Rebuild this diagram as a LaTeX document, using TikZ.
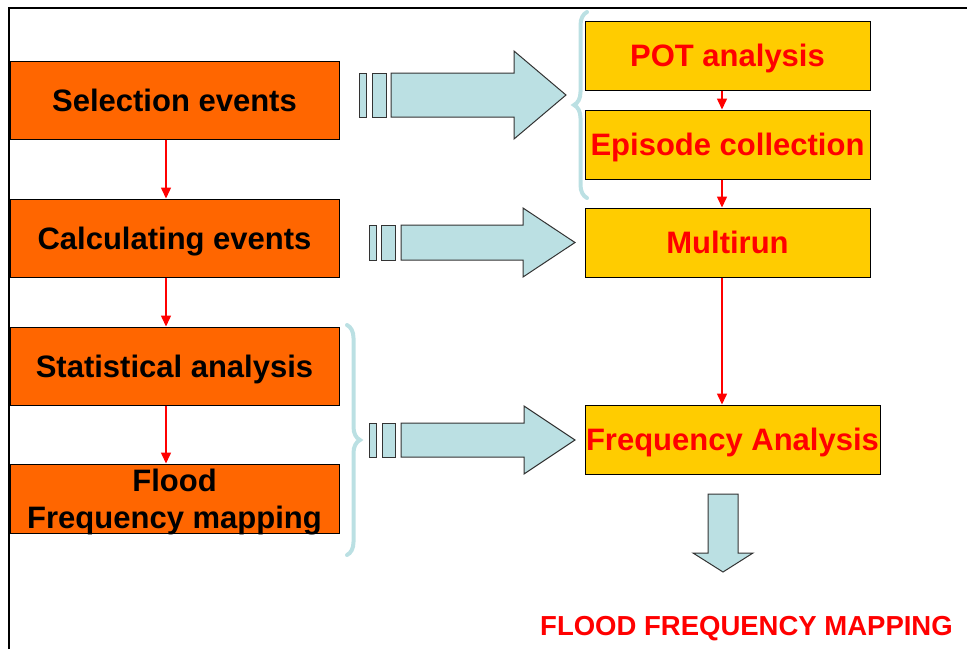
\documentclass[tikz,border=0pt]{standalone}
\usepackage{fontspec}
\setmainfont{Liberation Sans}
\usepackage{tikz}
\usepackage{xcolor}
\usetikzlibrary{arrows.meta,decorations.pathreplacing}

\definecolor{boxorange}{HTML}{FF6600}
\definecolor{boxyellow}{HTML}{FFCC00}
\definecolor{arrowblue}{HTML}{BBE0E3}

\begin{document}
\begin{tikzpicture}[x=1pt,y=-1pt,
  box/.style={draw=black,line width=1pt,inner sep=0pt,font=\fontsize{31}{37}\selectfont\bfseries},
  leftbox/.style={box,fill=boxorange,text=black,minimum width=329pt},
  rightbox/.style={box,fill=boxyellow,text=red,minimum width=285pt,minimum height=69pt},
  oneline/.style={text height=22pt,text depth=0pt},
  flow/.style={draw=red,line width=1.5pt,-{Triangle[length=11pt,width=10pt]}},
  blockarrow/.style={fill=arrowblue,draw=black!80,line width=1pt,line join=miter},
  curly/.style={draw=arrowblue,line width=4pt,line cap=round,decorate,decoration={brace,amplitude=13pt}}]

\useasboundingbox (0,0) rectangle (967,649);
\draw[line width=2pt] (9,649) -- (9,8) -- (967,8);

\node[leftbox,oneline,minimum height=78pt] (sel) at (174.5,100) {Selection events};
\node[leftbox,oneline,minimum height=78pt] (calc) at (174.5,238) {Calculating events};
\node[leftbox,oneline,minimum height=78pt] (stat) at (174.5,366) {Statistical analysis};
\node[leftbox,align=center,text depth=0pt,minimum height=69pt] (flood) at (174.5,498.5) {Flood\\Frequency mapping};

\node[rightbox,oneline] (pot) at (727.5,55.5) {POT analysis};
\node[rightbox,oneline] (epi) at (727.5,144.5) {Episode collection};
\node[rightbox,oneline] (multi) at (727.5,242.5) {Multirun};
\node[rightbox,oneline,minimum width=295pt] (freq) at (732.5,439.5) {Frequency Analysis};
\node[text=red,inner sep=0pt,text height=19.7pt,text depth=0pt,font=\fontsize{27.5}{33}\selectfont\bfseries] (map) at (746.5,625.5) {FLOOD FREQUENCY MAPPING};

\draw[flow] ([xshift=-8.5pt]sel.south) -- ([xshift=-8.5pt]calc.north);
\draw[flow] ([xshift=-8.5pt]calc.south) -- ([xshift=-8.5pt]stat.north);
\draw[flow] ([xshift=-8.5pt]stat.south) -- ([xshift=-8.5pt]flood.north);
\draw[flow] ([xshift=-5.5pt]pot.south) -- ([xshift=-5.5pt]epi.north);
\draw[flow] ([xshift=-5.5pt]epi.south) -- ([xshift=-5.5pt]multi.north);
\draw[flow] ([xshift=-5.5pt]multi.south) -- ([xshift=-5.5pt]multi.south |- freq.north);

\draw[blockarrow] (359,73) rectangle (366,117);
\draw[blockarrow] (372,73) rectangle (386,117);
\draw[blockarrow] (391,73) -- (514,73) -- (514,51) -- (566,95) -- (514,139) -- (514,117) -- (391,117) -- cycle;

\draw[blockarrow] (369,225) rectangle (376,260);
\draw[blockarrow] (381,225) rectangle (395,260);
\draw[blockarrow] (401,225) -- (523,225) -- (523,208) -- (575,242.5) -- (523,277) -- (523,260) -- (401,260) -- cycle;

\draw[blockarrow] (369,423) rectangle (376,457);
\draw[blockarrow] (382,423) rectangle (395,457);
\draw[blockarrow] (401,423) -- (524,423) -- (524,406) -- (575,440) -- (524,474) -- (524,457) -- (401,457) -- cycle;

\draw[blockarrow] (708,494) -- (738,494) -- (738,553) -- (753,553) -- (723,572) -- (693,553) -- (708,553) -- cycle;

\draw[curly] (587,198) -- (587,12);
\draw[curly] (347,325) -- (347,555);

\end{tikzpicture}
\end{document}
